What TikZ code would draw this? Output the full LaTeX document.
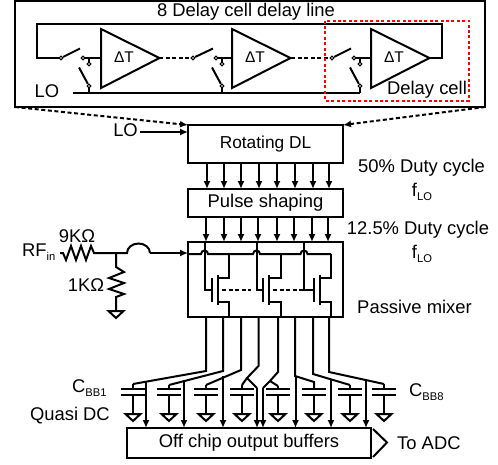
\documentclass[tikz,border=0pt]{standalone}
\usepackage{fontspec}
\setmainfont{Liberation Sans}
\usetikzlibrary{arrows.meta,calc}
\newcommand\lowtxt[1]{\raisebox{-0.22em}{\fontsize{11.2}{11.2}\selectfont #1}}
\tikzset{
  wire/.style={line width=2pt,line join=miter},
  frame/.style={draw,line width=2.3pt,inner sep=0pt,outer sep=0pt},
  sig/.style={wire,-{Latex[length=8pt,width=7pt]}},
  dotted link/.style={wire,dash pattern=on 4pt off 2.6pt},
  contact/.style={draw,line width=1.1pt,fill=white,circle,inner sep=0pt,minimum size=3.8pt},
  amp/.style={wire},
  lab/.style={inner sep=0pt,font=\fontsize{18.4}{20}\selectfont},
  plate/.style={line width=2.4pt},
  gatebar/.style={line width=2.8pt},
}
\newcommand\gnd[2]{\draw[wire] (#1-7.5,#2) -- (#1+7.5,#2) -- (#1,#2+7) -- cycle;}
\newcommand\capg[2]{% centre x, wire top y
  \draw[plate] (#1-12,389) -- (#1+12,389) (#1-12,395) -- (#1+12,395);
  \draw[wire] (#1,#2) -- (#1,389) (#1,395) -- (#1,414);
  \gnd{#1}{414}}
\newcommand\swcell[5]{% in x, arm end x, out contact x, lower x, amp x
  \node[contact] (in#1) at (#1,58) {};
  \node[contact] (up#1) at (#3,58) {};
  \node[contact] (lo#1) at (#4,64) {};
  \node[contact] (rl#1) at (#4,86) {};
  \draw[wire] (in#1) -- (#2,48.5);
  \draw[wire] (up#1) -- (#5,58);
  \draw[wire] (lo#1) -- (#4,58);
  \draw[wire] (#4-10,67.5) -- (rl#1);
  \draw[wire] (rl#1) -- (#4,93);}
\newcommand\amptri[1]{\draw[amp] (#1,29) -- (#1,88) -- (#1+58.5,58) -- cycle;
  \node[lab,font=\fontsize{15.5}{17}\selectfont] at (#1+23,57) {ΔT};}
\newcommand\fet[3]{% gate feed x, gate bar x, drain/source x
  \draw[wire] (#1,241) -- (#1,290) -- (#2-1,290);
  \draw[gatebar] (#2,278) -- (#2,302);
  \draw[gatebar] (#2+6,275) -- (#2+6,305);
  \draw[wire] (#2+6,278) -- (#3,278) -- (#3,254);
  \draw[wire] (#2+6,302) -- (#3,302) -- (#3,317);}
\begin{document}
\begin{tikzpicture}[x=1pt,y=-1pt]
\useasboundingbox (0,0) rectangle (498,464);
% top box
\node[frame,minimum width=470pt,minimum height=106pt] (top) at (250,54) {};
\node[lab] (title) at (246,12) {8 Delay cell delay line};
\draw[wire] (430,58) -- (442,58) -- (442,24) -- (37,24) -- (37,58) -- (61,58);
\amptri{101}\amptri{232}\amptri{371}
\swcell{61}{80}{83}{89}{101}
\swcell{193}{213}{216}{222}{232}
\swcell{332}{351}{354}{360}{371}
\draw[dotted link] (159,58) -- (in193);
\draw[dotted link] (291,58) -- (in332);
\node[lab] (lotop) at (47,91) {LO};
\draw[wire] (73,93) -- (360,93);
\node[lab] (dc) at (427,90) {Delay cell};
\draw[red,line width=2pt,dash pattern=on 3pt off 2.4pt] (325,20.5) rectangle (469,100.5);
% blocks
\node[frame,minimum width=155pt,minimum height=38pt] (rot) at (265.5,144) {};
\node[lab,font=\fontsize{17.3}{19}\selectfont] at (rot) {Rotating DL};
\node[frame,minimum width=155pt,minimum height=28pt] (pulse) at (265.5,203) {};
\node[lab] at (pulse) {Pulse shaping};
\node[frame,minimum width=155pt,minimum height=75pt] (mix) at (265.5,279.5) {};
\node[frame,minimum width=244pt,minimum height=30pt] (buf) at (249,443) {};
\node[lab] at (buf) {Off chip output buffers};
% arrows from top box
\draw[dotted link,-{Latex[length=8pt,width=7pt]}] (top.south west) -- (rot.north west);
\draw[dotted link,-{Latex[length=8pt,width=7pt]}] (top.south east) -- (rot.north east);
\node[lab,anchor=east] (lomid) at (138,130) {LO};
\draw[sig] (lomid.east) ++(2,2) -- (rot.west |- 0,132);
\foreach \x/\y in {207/206,224/224,241/241,259/258,277/277,295/294,313/312,329/328}{
  \draw[sig] (\x,163) -- (\x,189);
  \draw[sig] (\y,217) -- (\y,242);
}
% RF input
\node[lab,anchor=west] (rf) at (22,252) {RF\lowtxt{in}};
\node[lab] (r9) at (77,236) {9KΩ};
\node[lab] (r1) at (86,285) {1KΩ};
\draw[wire] (60,253) -- (63,253) -- (66,260) -- (71,246) -- (76,260) -- (81,246) -- (86,260) -- (91,246) -- (94,253) -- (127,253)
  arc[start angle=180,end angle=0,x radius=11.5pt,y radius=9.5pt];
\draw[sig] (150,253) -- (mix.west |- 0,253);
\draw[wire] (116,253) -- (116,267) -- (124,272) -- (109,278) -- (124,283) -- (109,289) -- (124,294) -- (116,297) -- (116,311);
\gnd{116}{311}
% mixer internals
\draw[wire] (188,254) -- (201,254) arc[start angle=180,end angle=0,radius=3.5pt]
  -- (253,254) arc[start angle=180,end angle=0,radius=3.5pt]
  -- (300.5,254) arc[start angle=180,end angle=0,radius=3.5pt]
  -- (331,254);
\fet{204.5}{212}{229}
\fet{257}{263}{281}
\fet{304}{314}{331}
\draw[dotted link] (222,290) -- (251,290);
\draw[dotted link] (273,290) -- (303,290);
% mixer outputs
\draw[wire] (206,317) -- (206,371) -- (133,384);
\draw[wire] (223,317) -- (223,371) -- (169,385);
\draw[wire] (241,317) -- (241,370) -- (206,385);
\draw[wire] (258.5,317) -- (258.5,366) -- (247,378) -- (242,385);
\draw[wire] (247,378) -- (257,388);
\draw[wire] (278,317) -- (278,372) -- (270,381) -- (263,388);
\draw[wire] (270,381) -- (278,386);
\draw[wire] (295,317) -- (295,376) -- (314,382) -- (314,387);
\draw[wire] (313,317) -- (313,374) -- (350,385);
\draw[wire] (329,317) -- (329,372) -- (384,384);
\capg{133}{384}\capg{169}{385}\capg{206}{385}\capg{242}{385}
\capg{278}{386}\capg{314}{384}\capg{350}{385}\capg{384}{384}
\foreach \x/\y in {146/381.5,184/380,223/376,257/388,263/388,295.5/376,331/379.5,366/381}{
  \draw[sig] (\x,\y) -- (\x,428);
}
% output
\draw[wire] (373,429) -- (387,442.5) -- (373,457);
\node[lab,anchor=west] (adc) at (397,443) {To ADC};
% labels
\node[lab,anchor=west] (cb1) at (72,388) {C\lowtxt{BB1}};
\node[lab,anchor=west] (cb8) at (409,392) {C\lowtxt{BB8}};
\node[lab,anchor=east] (qdc) at (110,416) {Quasi DC};
\node[lab] (d50) at (421.5,168) {50\% Duty cycle};
\node[lab] (f1) at (422,192) {f\lowtxt{LO}};
\node[lab] (d12) at (418,230) {12.5\% Duty cycle};
\node[lab] (f2) at (422,254) {f\lowtxt{LO}};
\node[lab] (pm) at (414.5,307) {Passive mixer};
\end{tikzpicture}
\end{document}
